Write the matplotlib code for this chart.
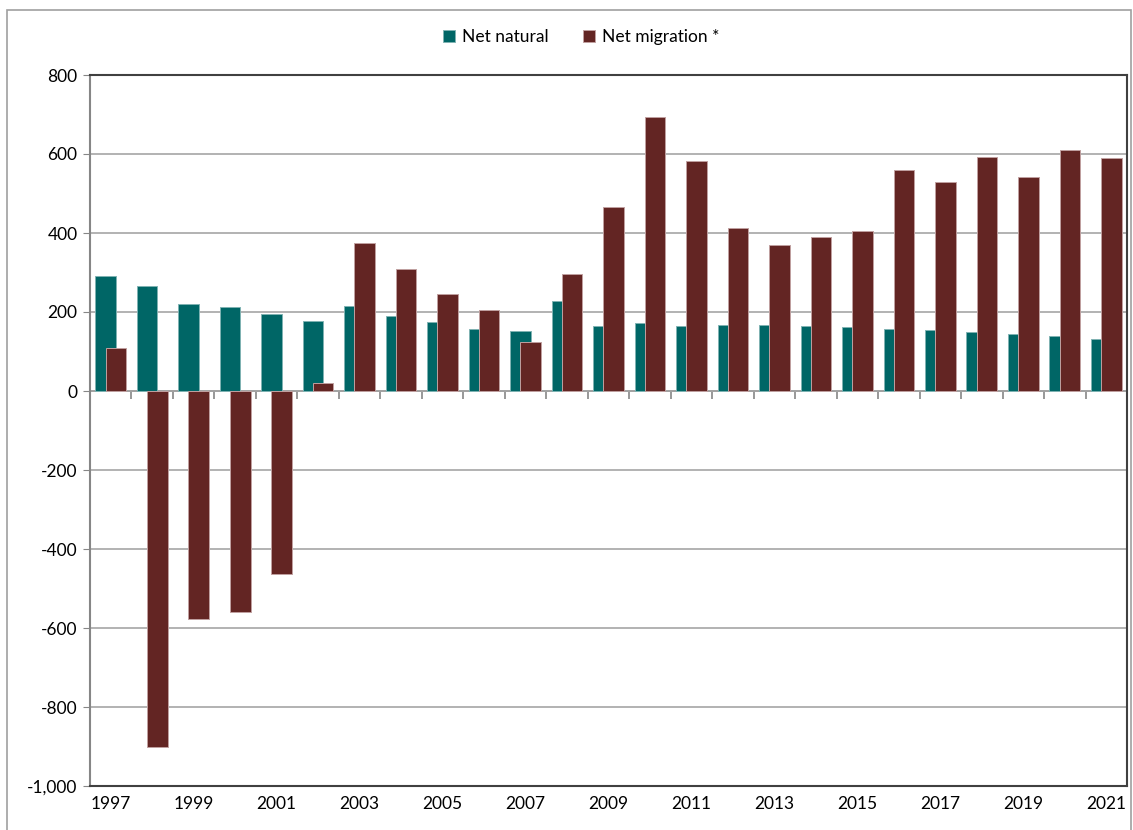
import matplotlib.pyplot as plt
from matplotlib.patches import Rectangle
from matplotlib.ticker import FuncFormatter
import numpy as np

plt.rcParams['font.family'] = ['Lato', 'DejaVu Sans']

years = list(range(1997, 2022))
net_natural = [291, 267, 220, 212, 194, 176, 216, 190, 175, 156, 152, 229, 165, 171,
               165, 166, 166, 164, 162, 156, 154, 149, 145, 138, 131]
net_migration = [109, -900, -577, -559, -463, 19, 375, 309, 245, 206, 125, 297, 466, 693,
                 583, 412, 369, 390, 404, 559, 529, 593, 543, 610, 590]
year_labels = [str(y) if y % 2 == 1 else '' for y in years]

teal = '#006666'
maroon = '#632523'

fig = plt.figure(figsize=(11.33, 8.3), dpi=100)
ax = fig.add_axes([90 / 1133, 1 - 786 / 830, 1037 / 1133, 711 / 830])

x = np.arange(len(years))
w = 0.495
off = 0.122
ax.bar(x - off, net_natural, w, color=teal, edgecolor='#7fb3b3', linewidth=0.7,
       label='Net natural', zorder=3)
ax.bar(x + off, net_migration, w, color=maroon, edgecolor='#c0a0a0', linewidth=0.7,
       label='Net migration *', zorder=4)

ax.set_xlim(-0.5, len(years) - 0.5)
ax.set_ylim(-1000, 800)
ax.set_yticks(range(-1000, 801, 200))
ax.yaxis.set_major_formatter(FuncFormatter(lambda v, p: f'{v:,.0f}'))
ax.yaxis.grid(True, color='#a6a6a6', linewidth=1.2, zorder=0)
ax.set_axisbelow(True)

ax.set_xticks(x)
ax.set_xticklabels(year_labels)
ax.tick_params(axis='x', length=0, pad=7, labelsize=12.5)
ax.tick_params(axis='y', length=5, color='#868686', labelsize=12.5, pad=4)

for s in ['top', 'bottom', 'right']:
    ax.spines[s].set_color('#404040')
    ax.spines[s].set_linewidth(1.5)
ax.spines['left'].set_color('#868686')
ax.spines['left'].set_linewidth(1.5)

# category axis crossing at zero, with ticks between categories
zero_ax = ax.secondary_xaxis(1000 / 1800)
zero_ax.xaxis.set_ticks_position('bottom')
zero_ax.set_xticks(np.arange(0.5, len(years) - 0.5, 1))
zero_ax.set_xticklabels([])
zero_ax.tick_params(direction='out', length=6, color='#868686', width=1.2)
for s in zero_ax.spines.values():
    s.set_color('#868686')
    s.set_linewidth(1.2)

fig.legend(loc='center', bbox_to_anchor=(0.513, 1 - 37 / 830), ncol=2, frameon=False,
           fontsize=12.5, handlelength=0.7, handleheight=0.7, handletextpad=0.4,
           columnspacing=2.0)

fig.patches.append(Rectangle((7 / 1133, -0.02), 1124 / 1133, 1 - 10 / 830 + 0.02,
                             transform=fig.transFigure, fill=False,
                             edgecolor='#a0a0a0', linewidth=1.2))

fig.savefig('out.png', dpi=100)
